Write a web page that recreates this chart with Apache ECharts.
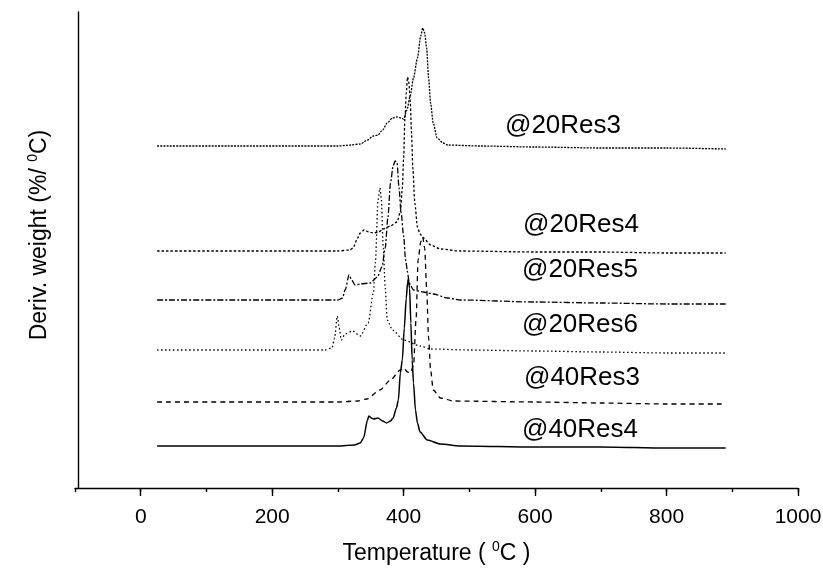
<!DOCTYPE html>
<html><head><meta charset="utf-8">
<script src="https://cdn.jsdelivr.net/npm/echarts@6/dist/echarts.min.js"></script>
<style>html,body{margin:0;padding:0;background:#fff}#c{width:823px;height:571px}</style>
</head><body><div id="c"></div>
<script>
// Temperature (°C) vs stacked derivative weight (arbitrary offset units)
const res3_20 = [[25,342],[150,342],[300,342],[320,343],[334,344],[345,348],[354,352],[361,353],[368,358],[375,365],[383,370],[390,371],[396,370],[400,369],[405,378],[410,392],[415,410],[421,430],[426,452],[429,460],[432,455],[435,440],[438,410],[441,385],[445,365],[451,350],[460,345],[467,343],[517,342],[600,341],[700,340],[800,340],[890,339]];
const res4_20 = [[25,237],[150,237],[300,237],[318,238],[323,240],[330,250],[334,255],[340,258],[347,256],[354,255],[362,256],[369,259],[380,262],[390,266],[395,276],[398,300],[400,330],[402,370],[404,395],[406,411],[408,405],[410,388],[412,355],[414,320],[417,285],[421,261],[425,254],[430,250],[441,243],[456,239],[486,237],[600,236],[700,236],[800,235],[890,235]];
const res5_20 = [[25,188],[150,188],[300,188],[307,190],[311,198],[317,213],[321,208],[326,203],[334,204],[349,205],[360,211],[367,221],[372,240],[376,270],[380,305],[384,322],[387,327],[390,325],[393,300],[396,276],[400,252],[403,228],[406,216],[408,207],[410,203],[415,198],[430,196],[445,194],[467,190],[486,188],[600,186],[700,185],[800,184],[890,184]];
const res6_20 = [[25,138],[150,138],[280,138],[291,140],[295,150],[299,172],[302,160],[305,148],[311,154],[322,157],[334,152],[346,165],[354,195],[357,225],[361,288],[364,300],[366,290],[369,240],[372,200],[375,168],[383,158],[400,148],[425,142],[441,139],[500,138],[600,137],[700,136],[800,135],[890,135]];
const res3_40 = [[25,86],[150,86],[300,86],[330,87],[344,89],[364,98],[380,108],[395,118],[400,120],[406,116],[410,115],[415,122],[419,170],[422,228],[426,246],[429,251],[432,240],[435,200],[438,150],[441,118],[445,98],[456,90],[476,87],[600,86],[700,85],[800,84],[890,84]];
const res4_40 = [[25,42],[150,42],[300,42],[325,43],[334,45],[339,50],[345,68],[347,72],[351,70],[354,69],[361,70],[368,67],[374,65],[380,67],[384,70],[389,80],[392,88],[395,115],[398,128],[401,160],[404,190],[406,205],[407,209],[409,200],[411,165],[413,128],[415,105],[418,78],[421,65],[425,56],[436,48],[456,44],[486,42],[600,41],[700,41],[800,40],[890,40]];

const seriesNames = ['@20Res3','@20Res4','@20Res5','@20Res6','@40Res3','@40Res4'];
const seriesData = [res3_20, res4_20, res5_20, res6_20, res3_40, res4_40];
const majorTicks = [0,200,400,600,800,1000];

const dashes = [[2,1.2],[2.5,2],[6,2,2,2],[1.5,2.5],[5,4],null];
const labelPos = [[505,113],[523,212],[522,257],[522,312],[524,365],[522,417]];

const FONT = "'Liberation Sans', Arial, sans-serif";
const chart = echarts.init(document.getElementById('c'), null, {renderer:'canvas'});
chart.setOption({
  backgroundColor:'#fff',
  animation:false,
  grid:{left:75, right:25, top:12, bottom:83, containLabel:false, outerBoundsMode:'none'},
  xAxis:[{
    type:'value', min:-100, max:1000, interval:100,
    axisLine:{show:true, onZero:false, lineStyle:{color:'#000', width:1.4}},
    axisTick:{show:true, inside:false, length:4, lineStyle:{color:'#000', width:1.4}},
    axisLabel:{show:true, margin:19, color:'#000', fontSize:21, fontFamily:FONT,
      formatter:v=> (v>=0 && v%200===0) ? String(v) : ''},
    splitLine:{show:false},
    name:'Temperature ( {s|0}C )', nameLocation:'middle', nameGap:52,
    nameTextStyle:{color:'#000', fontSize:23, fontFamily:FONT,
      rich:{s:{fontSize:14, fontFamily:FONT, color:'#000', padding:[0,0,13,0]}}}
  },{
    type:'value', min:-100, max:1000, position:'bottom',
    axisLine:{show:false, onZero:false},
    axisTick:{show:true, length:8, customValues:majorTicks, lineStyle:{color:'#000', width:1.4}},
    axisLabel:{show:false},
    splitLine:{show:false}
  }],
  yAxis:{
    type:'value', min:0, max:476, offset:-3,
    axisLine:{show:true, onZero:false, lineStyle:{color:'#000', width:1.4}},
    axisTick:{show:false}, axisLabel:{show:false}, splitLine:{show:false}
  },
  series: seriesData.map((d,i)=>({
    name:seriesNames[i], type:'line', data:d, showSymbol:false, symbol:'none',
    smooth:0.25, smoothMonotone:'x',
    lineStyle:{color:'#000', width: i===5?1.5:1.3, type: dashes[i] || 'solid'}
  })),
  graphic: seriesNames.map((t,i)=>({
    type:'text', left:labelPos[i][0], top:labelPos[i][1],
    style:{text:t, font:'26px '+FONT, fill:'#000'}
  })).concat([{
    type:'text', x:40, y:235, rotation:Math.PI/2,
    style:{text:'Deriv. weight (%/ {s|0}C)', font:'23px '+FONT, fill:'#000',
      align:'center', verticalAlign:'middle',
      rich:{s:{fontSize:14, fontFamily:FONT, fill:'#000', padding:[0,0,13,0]}}}
  }])
});
</script>
</body></html>
